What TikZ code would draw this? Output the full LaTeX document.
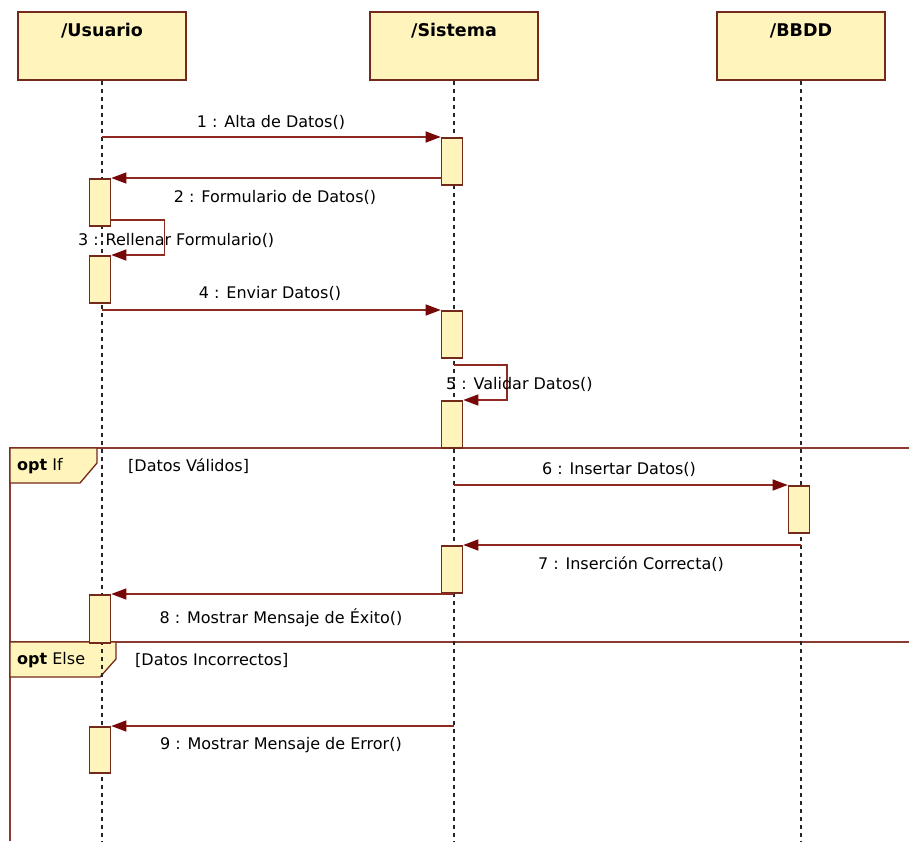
\documentclass[tikz,border=0pt]{standalone}
\usepackage{fontspec}
\setmainfont{DejaVu Sans}
\usetikzlibrary{arrows.meta,calc}
\definecolor{boxfill}{HTML}{FFF5BC}
\definecolor{boxline}{HTML}{742A1A}
\definecolor{msgline}{HTML}{8E2A22}
\definecolor{tipcol}{HTML}{760808}
\definecolor{frameline}{HTML}{8A3A30}
\begin{document}
\begin{tikzpicture}[x=1pt,y=-1pt,
 font=\fontsize{16}{19}\selectfont,
 head/.style={draw=boxline,fill=boxfill,line width=1.6pt,minimum width=168pt,minimum height=68pt,inner sep=0},
 title/.style={font=\fontsize{17.5}{20}\selectfont\bfseries,inner sep=0},
 act/.style={draw=boxline,fill=boxfill,line width=1.6pt,minimum width=21pt,inner sep=0,anchor=north},
 lifeline/.style={draw=black!85,line width=1.4pt,dash pattern=on 4pt off 4pt},
 msg/.style={draw=msgline,line width=1.3pt,-{Triangle[length=15pt,width=11pt,color=tipcol]}},
 frameln/.style={draw=frameline,line width=1.3pt},
 tag/.style={draw=boxline,fill=boxfill,line width=1.3pt},
 lbl/.style={inner sep=0,text=black},
]
\useasboundingbox (0,0) rectangle (909,841);
\fill[white] (0,0) rectangle (909,841);

% headers
\node[head] (usr) at (102,46) {};
\node[head] (sys) at (454,46) {};
\node[head] (bd) at (801,46) {};
\node[title] (tusr) at (102,31) {/Usuario};
\node[title] (tsys) at (454,31) {/Sistema};
\node[title] (tbd) at (801,31) {/BBDD};

% combined fragment frame
\draw[frameln] (909,448) -- (10,448) -- (10,841);
\draw[frameln] (10,642) -- (909,642);
\draw[tag] (10,448) -- (97,448) -- (97,463) -- (80,483) -- (10,483) -- cycle;
\draw[tag] (10,642) -- (116,642) -- (116,659) -- (100,677) -- (10,677) -- cycle;
\node[lbl,anchor=west] (optif) at (17,466) {\textbf{opt} If};
\node[lbl,anchor=west] (optelse) at (17,660) {\textbf{opt} Else};
\node[lbl,anchor=west] (g1) at (128,466) {[Datos Válidos]};
\node[lbl,anchor=west] (g2) at (135,660) {[Datos Incorrectos]};

% lifeline ends
\coordinate (usrEnd) at (102,841);
\coordinate (sysEnd) at (454,841);
\coordinate (bdEnd) at (801,841);
\draw[lifeline] (usr.south) -- (usrEnd);
\draw[lifeline] (sys.south) -- (sysEnd);
\draw[lifeline] (bd.south) -- (bdEnd);

% activations
\node[act,minimum height=47pt] (s1) at (452,137) {};
\node[act,minimum height=47pt] (u1) at (100,178) {};
\node[act,minimum height=47pt] (u2) at (100,255) {};
\node[act,minimum height=47pt] (s2) at (452,310) {};
\node[act,minimum height=47pt] (s3) at (452,400) {};
\node[act,minimum height=47pt] (b1) at (799,485) {};
\node[act,minimum height=47pt] (s4) at (452,545) {};
\node[act,minimum height=48pt] (u3) at (100,594) {};
\node[act,minimum height=46pt] (u4) at (100,726) {};

% message start points on lifelines
\coordinate (m1) at (102,137);
\coordinate (m2) at (441.5,178);
\coordinate (m3) at (110.5,220);
\coordinate (m4) at (102,310);
\coordinate (m5) at (454,365);
\coordinate (m6) at (454,485);
\coordinate (m7) at (801,545);
\coordinate (m8) at (454,594);
\coordinate (m9) at (454,726);

% messages
\draw[msg] (m1) -- (s1.north west);
\draw[msg] (m2) -- (u1.north east);
\draw[msg] (m3) -- ++(54,0) |- (u2.north east);
\draw[msg] (m4) -- (s2.north west);
\draw[msg] (m5) -- ++(53,0) |- (s3.north east);
\draw[msg] (m6) -- (b1.north west);
\draw[msg] (m7) -- (s4.north east);
\draw[msg] (m8) -- (u3.north east);
\draw[msg] (m9) -- (u4.north east);

% labels
\node[lbl] (l1) at (271,122) {1 : Alta de Datos()};
\node[lbl] (l2) at (275,197) {2 : Formulario de Datos()};
\node[lbl,anchor=west] (l3) at (78,240) {3 : Rellenar Formulario()};
\node[lbl] (l4) at (270,293) {4 : Enviar Datos()};
\node[lbl,anchor=west] (l5) at (446,384) {5 : Validar Datos()};
\node[lbl] (l6) at (619,469) {6 : Insertar Datos()};
\node[lbl] (l7) at (631,564) {7 : Inserción Correcta()};
\node[lbl] (l8) at (281,618) {8 : Mostrar Mensaje de Éxito()};
\node[lbl] (l9) at (281,745) {9 : Mostrar Mensaje de Error()};
\end{tikzpicture}
\end{document}
